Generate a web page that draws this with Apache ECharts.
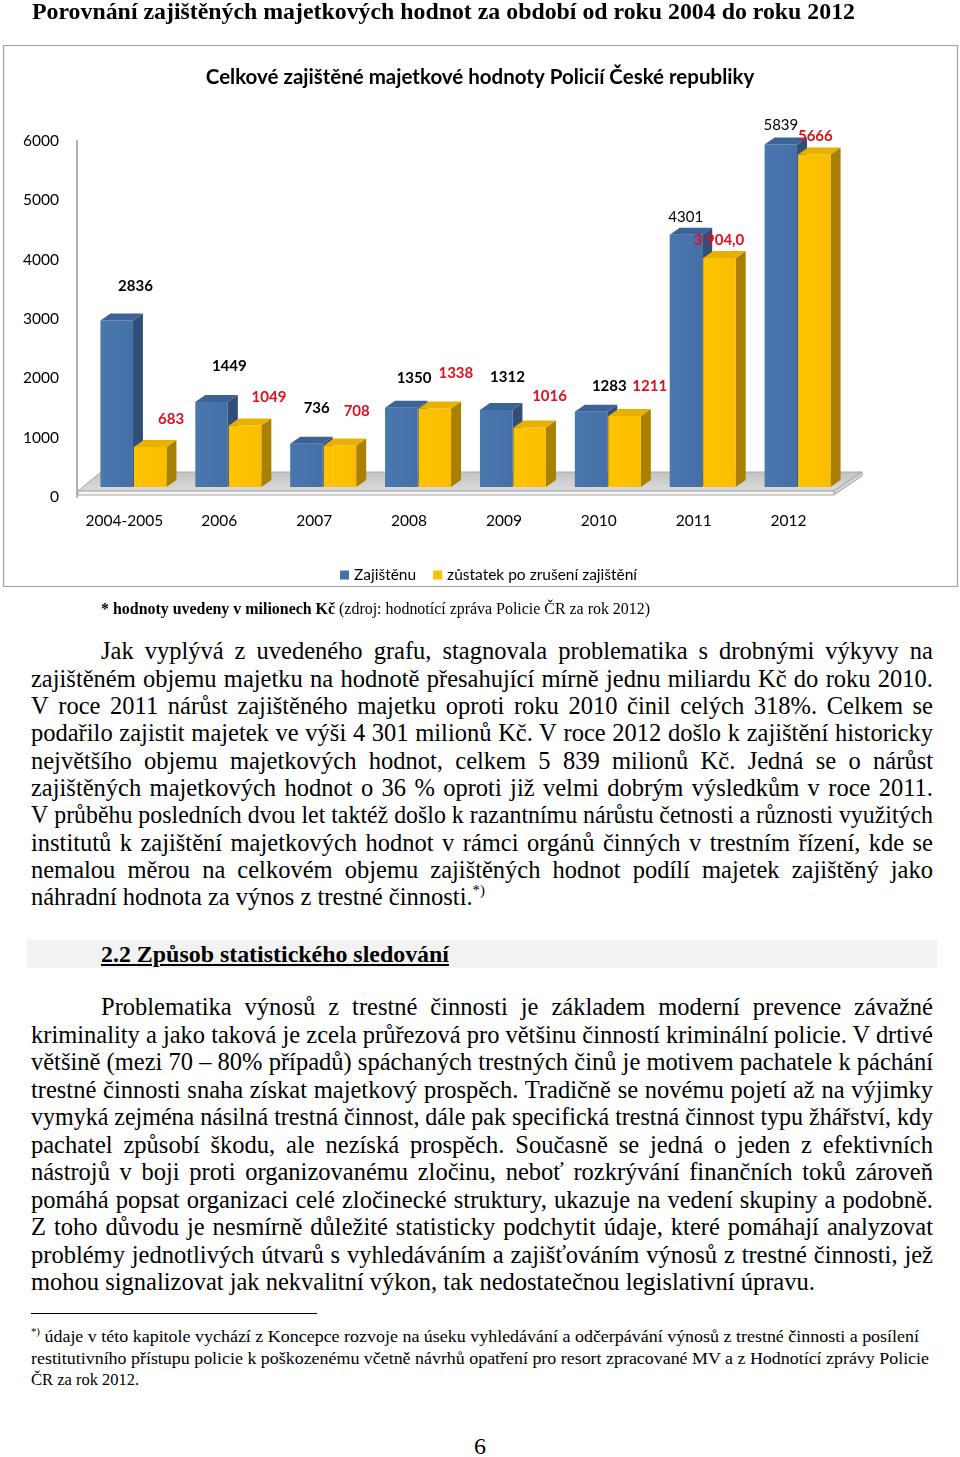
<!DOCTYPE html>
<html><head><meta charset="utf-8">
<script src="https://cdn.jsdelivr.net/npm/echarts/dist/echarts.min.js"></script>
<style>
html,body{margin:0;padding:0;background:#fff;}
body{width:960px;height:1457px;position:relative;overflow:hidden;font-family:"Liberation Serif","Times New Roman",serif;color:#000;}
#chart{position:absolute;left:0;top:0;width:960px;height:600px;}
.t{position:absolute;white-space:nowrap;transform-origin:0 50%;z-index:2;}
.p{font-size:24.5px;line-height:27.4px;}
.fn{font-size:16.5px;line-height:21.5px;}
sup{font-size:0.6em;vertical-align:baseline;position:relative;top:-0.7em;}
#band{position:absolute;left:27px;top:940px;width:910px;height:28px;background:#f2f2f2;}
#rule{position:absolute;left:31px;top:1313px;width:286px;height:1.4px;background:#000;}
</style>
</head><body>
<div id="chart"></div>
<div class="t" id="ptitle" data-w="823" data-m="s" style="left:32px;top:-2px;font-size:23px;font-weight:bold;line-height:27px;">Porovnání zajištěných majetkových hodnot za období od roku 2004 do roku 2012</div>
<div class="t" data-w="549" data-m="s" style="left:101px;top:599px;font-size:16px;line-height:20px;"><b>* hodnoty uvedeny v milionech Kč</b> (zdroj: hodnotící zpráva Policie ČR za rok 2012)</div>
<div id="band"></div>
<div class="t" data-w="348" data-m="s" style="left:101px;top:940px;font-size:24px;line-height:28px;font-weight:bold;text-decoration:underline;">2.2 Způsob statistického sledování</div>
<div id="rule"></div>
<div id="textlines"></div>
<div class="t" style="left:474px;top:1432px;font-size:24px;line-height:28px;">6</div>
<script>
// ---------- chart data ----------
const categories = ['2004-2005', '2006', '2007', '2008', '2009', '2010', '2011', '2012'];
const zajisteno = [2836, 1449, 736, 1350, 1312, 1283, 4301, 5839];
const zustatek = [683, 1049, 708, 1338, 1016, 1211, 3904, 5666];
const zajistenoLabels = ['2836', '1449', '736', '1350', '1312', '1283', '4301', '5839'];
const zustatekLabels = ['683', '1049', '708', '1338', '1016', '1211', '3 904,0', '5666'];
const seriesNames = ['Zajištěnu', 'zůstatek po zrušení zajištění'];
const yMin = 0, yMax = 6000, yStep = 1000;

// label placement / styling (not data)
const blueLabelOffset = [[11,-34],[10,-36],[2.5,-36],[5,-30],[3.5,-33],[10.5,-26],[-8,-18],[-7.7,-19]];
const yellowLabelOffset = [[46.6,-28],[49.7,-28.4],[42.5,-34.4],[46.8,-35.5],[45.6,-31.4],[50.9,-30.2],[25.3,-17.8],[26.8,-18.7]];
const blueLabelWeight = ['bold','bold','bold','bold','bold','bold','normal','normal'];

// ---------- text ----------
const para1 = [
 'Jak vyplývá z\u00a0uvedeného grafu, stagnovala problematika s\u00a0drobnými výkyvy na',
 'zajištěném objemu majetku na hodnotě přesahující mírně jednu miliardu Kč do roku 2010.',
 'V\u00a0roce 2011 nárůst zajištěného majetku oproti roku 2010 činil celých 318%. Celkem se',
 'podařilo zajistit majetek ve výši 4\u00a0301 milionů Kč. V\u00a0roce 2012 došlo k\u00a0zajištění historicky',
 'největšího objemu majetkových hodnot, celkem 5\u00a0839 milionů Kč. Jedná se o nárůst',
 'zajištěných majetkových hodnot o 36 % oproti již velmi dobrým výsledkům v roce 2011.',
 'V\u00a0průběhu posledních dvou let taktéž došlo k\u00a0razantnímu nárůstu četnosti a různosti využitých',
 'institutů k\u00a0zajištění majetkových hodnot v\u00a0rámci orgánů činných v\u00a0trestním řízení, kde se',
 'nemalou měrou na celkovém objemu zajištěných hodnot podílí majetek zajištěný jako',
 'náhradní hodnota za výnos z trestné činnosti.'
];
const para2 = [
 'Problematika výnosů z trestné činnosti je základem moderní prevence závažné',
 'kriminality a jako taková je zcela průřezová pro většinu činností kriminální policie. V drtivé',
 'většině (mezi 70 – 80% případů) spáchaných trestných činů je motivem pachatele k páchání',
 'trestné činnosti snaha získat majetkový prospěch. Tradičně se novému pojetí až na výjimky',
 'vymyká zejména násilná trestná činnost, dále pak specifická trestná činnost typu žhářství, kdy',
 'pachatel způsobí škodu, ale nezíská prospěch. Současně se jedná o jeden z efektivních',
 'nástrojů v boji proti organizovanému zločinu, neboť rozkrývání finančních toků zároveň',
 'pomáhá popsat organizaci celé zločinecké struktury, ukazuje na vedení skupiny a podobně.',
 'Z\u00a0toho důvodu je nesmírně důležité statisticky podchytit údaje, které pomáhají analyzovat',
 'problémy jednotlivých útvarů s\u00a0vyhledáváním a zajišťováním výnosů z trestné činnosti, jež',
 'mohou signalizovat jak nekvalitní výkon, tak nedostatečnou legislativní úpravu.'
];
const foot = [
 ' údaje v této kapitole vychází z Koncepce rozvoje na úseku vyhledávání a odčerpávání výnosů z trestné činnosti a posílení',
 'restitutivního přístupu policie k poškozenému včetně návrhů opatření pro resort zpracované MV a z Hodnotící zprávy Policie',
 'ČR za rok 2012.'
];

const holder = document.getElementById('textlines');
function addLine(cls, text, left, top, target, mode, supBefore, supAfter){
  const d = document.createElement('div');
  d.className = 't ' + cls;
  d.style.left = left + 'px';
  d.style.top = top + 'px';
  if (supBefore) { const s = document.createElement('sup'); s.textContent = '*)'; d.appendChild(s); }
  d.appendChild(document.createTextNode(text));
  if (supAfter) { const s = document.createElement('sup'); s.textContent = '*)'; d.appendChild(s); }
  if (target) { d.dataset.w = target; d.dataset.m = mode; }
  holder.appendChild(d);
}
para1.forEach((s, i) => {
  const last = i === para1.length - 1;
  const left = i === 0 ? 101 : 31;
  addLine('p', s, left, 652 + i * 27.33 - 14.6, last ? 0 : 933 - left, 'j', false, last);
});
para2.forEach((s, i) => {
  const last = i === para2.length - 1;
  const left = i === 0 ? 101 : 31;
  addLine('p', s, left, 1008 + i * 27.5 - 14.6, last ? 0 : 933 - left, 'j', false, false);
});
addLine('fn', foot[0], 31, 1338 - 12, 888, 's', true, false);
addLine('fn', foot[1], 31, 1360 - 12, 898, 's', false, false);
addLine('fn', foot[2], 31, 1381 - 12, 0, 's', false, false);

function fitAll(){
  document.querySelectorAll('.t[data-w]').forEach(el => {
    const target = parseFloat(el.dataset.w);
    el.style.transform = ''; el.style.wordSpacing = '';
    const w = el.getBoundingClientRect().width;
    if (el.dataset.m === 'j') {
      const n = (el.textContent.match(/[ \u00a0]/g) || []).length;
      if (w > target || !n) el.style.transform = 'scaleX(' + (target / w) + ')';
      else el.style.wordSpacing = ((target - w) / n) + 'px';
    } else {
      el.style.transform = 'scaleX(' + (target / w) + ')';
    }
  });
}
fitAll();
if (document.fonts && document.fonts.ready) document.fonts.ready.then(fitAll);

// ---------- chart ----------
const chart = echarts.init(document.getElementById('chart'), null, {renderer: 'canvas'});
const labelFont = 'Lato';
function makeRender(cfg){
  return function(params, api){
    const i = api.value(0), v = api.value(1);
    const p = api.coord([i, v]), b = api.coord([i, 0]);
    const x0 = p[0] + cfg.start, w = cfg.w, dx = 10, dy = 7, yT = p[1], yB = b[1];
    const off = cfg.labelOffset[params.dataIndex];
    return {type: 'group', children: [
      {type: 'polygon', shape: {points: [[x0 + w, yT], [x0 + w + dx, yT - dy], [x0 + w + dx, yB - dy], [x0 + w, yB]]}, style: {fill: cfg.side}},
      {type: 'rect', shape: {x: x0, y: yT, width: w, height: yB - yT},
        style: {fill: new echarts.graphic.LinearGradient(0, 0, 1, 0, [{offset: 0, color: cfg.front0}, {offset: 1, color: cfg.front1}])}},
      {type: 'polygon', shape: {points: [[x0, yT], [x0 + w, yT], [x0 + w + dx, yT - dy], [x0 + dx, yT - dy]]}, style: {fill: cfg.top}},
      {type: 'text', z2: 10, style: {x: p[0] + off[0], y: yT + off[1], text: cfg.labels[params.dataIndex],
        fill: cfg.labelColor, fontFamily: labelFont, fontSize: 15, fontWeight: cfg.weight(params.dataIndex),
        align: 'center', verticalAlign: 'middle'}}
    ]};
  };
}
const blueCfg = {start: -24, w: 32.5, front0: '#4a77ae', front1: '#4470a6', top: '#3b6395', side: '#2f4e78',
  labelOffset: blueLabelOffset, labels: zajistenoLabels, labelColor: '#000', weight: i => blueLabelWeight[i]};
const yellowCfg = {start: 9.5, w: 32.5, front0: '#ffc400', front1: '#fbbd00', top: '#e8b000', side: '#a98000',
  labelOffset: yellowLabelOffset, labels: zustatekLabels, labelColor: '#e0101e', weight: () => 'bold'};

const floorGrad = new echarts.graphic.LinearGradient(0, 0, 0, 1, [{offset: 0, color: '#c2c2c2'}, {offset: 1, color: '#dcdcdc'}]);
const option = {
  animation: false,
  backgroundColor: '#fff',
  title: {text: 'Celkové zajištěné majetkové hodnoty Policií České republiky', left: 'center', top: 62,
    textStyle: {fontFamily: 'Lato', fontWeight: 'bold', fontSize: 20.5, color: '#000'}},
  legend: {left: 335, top: 562, itemWidth: 9, itemHeight: 9, itemGap: 17,
    textStyle: {fontFamily: 'Lato', fontSize: 15.5, color: '#000'},
    data: [{name: seriesNames[0], icon: 'rect', itemStyle: {color: '#4470a6'}},
           {name: seriesNames[1], icon: 'rect', itemStyle: {color: '#ffc000'}}]},
  graphic: [
    {type: 'rect', z: -10, shape: {x: 3.5, y: 45.5, width: 954, height: 541}, style: {fill: 'none', stroke: '#a0a0a0', lineWidth: 1.2}},
    {type: 'polygon', z: -5, shape: {points: [[78, 491], [834, 491], [862, 472], [101, 472]]}, style: {fill: floorGrad, stroke: '#a8a8a8', lineWidth: 1}},
    {type: 'polygon', z: -5, shape: {points: [[834, 491], [862, 472], [862, 476], [834, 495]]}, style: {fill: '#d4d4d4', stroke: '#a8a8a8', lineWidth: 1}},
    {type: 'polygon', z: -5, shape: {points: [[78, 491], [834, 491], [834, 495], [78, 495]]}, style: {fill: '#f4f4f4', stroke: '#a8a8a8', lineWidth: 1}}
  ],
  grid: [
    {left: 77, right: 124, top: 141, bottom: 103},
    {left: 77, right: 124, top: 135, bottom: 113}
  ],
  xAxis: [
    {type: 'category', gridIndex: 0, data: categories, axisLine: {show: false}, axisTick: {show: false},
      axisLabel: {interval: 0, margin: 16, fontFamily: 'Lato', fontSize: 15.5, color: '#000'}},
    {type: 'category', gridIndex: 1, data: categories, show: false}
  ],
  yAxis: [
    {type: 'value', gridIndex: 0, min: yMin, max: yMax, interval: yStep,
      axisLine: {show: true, lineStyle: {color: '#b0b0b0', width: 2}}, axisTick: {show: false}, splitLine: {show: false},
      axisLabel: {margin: 18, fontFamily: 'Lato', fontSize: 15.5, color: '#000', formatter: v => String(v)}},
    {type: 'value', gridIndex: 1, min: yMin, max: yMax, interval: yStep, show: false, splitLine: {show: false}}
  ],
  series: [
    {type: 'custom', name: seriesNames[0], xAxisIndex: 1, yAxisIndex: 1, itemStyle: {color: '#4470a6'},
      data: zajisteno.map((v, i) => [i, v]), renderItem: makeRender(blueCfg)},
    {type: 'custom', name: seriesNames[1], xAxisIndex: 1, yAxisIndex: 1, itemStyle: {color: '#ffc000'},
      data: zustatek.map((v, i) => [i, v]), renderItem: makeRender(yellowCfg)}
  ]
};
chart.setOption(option);
</script>
</body></html>
